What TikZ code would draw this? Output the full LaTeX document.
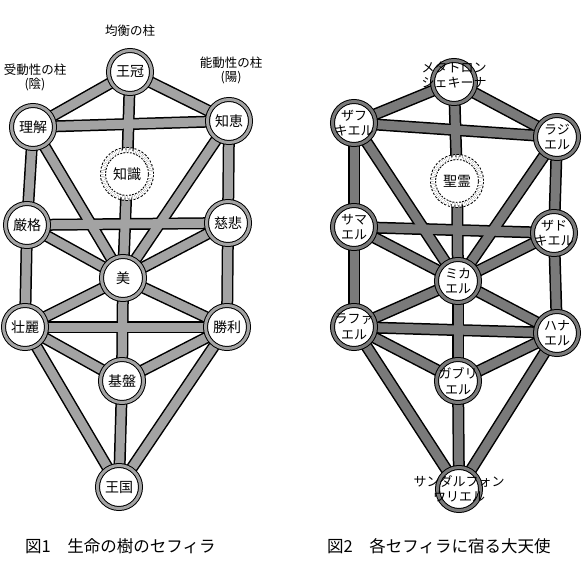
\documentclass[tikz,border=0pt]{standalone}
\usepackage{fontspec}
\setmainfont{Noto Sans CJK JP}
\usetikzlibrary{positioning}
\pgfdeclarelayer{bg}
\pgfsetlayers{bg,main}
\definecolor{graylife}{gray}{0.64}
\definecolor{grayangel}{gray}{0.48}
\tikzset{
    sefira/.style ={
        shape=circle,
        minimum size=43pt,
        inner sep=0pt,
        fill=white,
        draw=black,
        line width=1pt,
        double=#1,
        double distance=3pt,
        font=\fontsize{14}{16}\selectfont
    },
    daath/.style ={
        shape=circle,
        minimum size=48pt,
        inner sep=0pt,
        fill=white,
        draw=black,
        dash pattern=on 2pt off 1.6pt,
        line width=1pt,
        double=white,
        double distance=4pt,
        font=\fontsize{14}{16}\selectfont
    },
    pathout/.style ={line width=12pt, draw=black},
    pathin/.style ={line width=9pt, draw=#1},
    angel/.style ={align=center, inner sep=0pt, font=\fontsize{13}{15.5}\selectfont},
    pillar/.style ={align=center, inner sep=0pt, font=\fontsize{12.5}{14}\selectfont},
    figcap/.style ={anchor=west, inner sep=0pt, font=\fontsize{16.5}{18}\selectfont}
}
% paths of the tree of life
\newcommand\lifepaths{oukan/rikai, oukan/chie, oukan/chishiki, chishiki/bi,
    rikai/chie, rikai/genkaku, rikai/bi, chie/jihi, chie/bi,
    genkaku/jihi, genkaku/bi, jihi/bi, genkaku/sourei, jihi/shouri,
    bi/sourei, bi/shouri, bi/kiban, sourei/shouri, sourei/kiban, shouri/kiban,
    sourei/oukoku, shouri/oukoku, kiban/oukoku}
\newcommand\angelpaths{metatron/zaphkiel, metatron/raziel, metatron/seirei, seirei/michael,
    zaphkiel/raziel, zaphkiel/samael, zaphkiel/michael, raziel/zadkiel, raziel/michael,
    samael/zadkiel, samael/michael, zadkiel/michael, samael/raphael, zadkiel/haniel,
    michael/raphael, michael/haniel, michael/gabriel, raphael/haniel, raphael/gabriel, haniel/gabriel,
    raphael/sandalphon, haniel/sandalphon, gabriel/sandalphon}

\begin{document}
\begin{tikzpicture}[x=1pt,y=-1pt]
    \useasboundingbox (0,0) rectangle (583,583);
    % fig 1
    \node[sefira=graylife] (oukan) at(130,72) {王冠};
    \node[sefira=graylife] (rikai) at(33,127) {理解};
    \node[sefira=graylife] (chie) at(229,121) {知恵};
    \node[daath] (chishiki) at(127,174) {知識};
    \node[sefira=graylife] (genkaku) at(27,225) {厳格};
    \node[sefira=graylife] (jihi) at(228,223) {慈悲};
    \node[sefira=graylife] (bi) at(123,278) {美};
    \node[sefira=graylife] (sourei) at(25,327) {壮麗};
    \node[sefira=graylife] (shouri) at(227,327) {勝利};
    \node[sefira=graylife] (kiban) at(122,381) {基盤};
    \node[sefira=graylife] (oukoku) at(119,487) {王国};
    \node[pillar] (kinkou) at(130,31) {均衡の柱};
    \node[pillar] (judou) at(35,77) {受動性の柱\\(陰)};
    \node[pillar] (noudou) at(231,70) {能動性の柱\\(陽)};
    \node[figcap] (cap1) at(25,546) {図1　生命の樹のセフィラ};
    % fig 2
    \node[sefira=grayangel, label={[angel,yshift=7pt]center:{メタトロン\\シェキーナ}}] (metatron) at(454,82) {};
    \node[sefira=grayangel, label={[angel]center:{ザフ\\キエル}}] (zaphkiel) at(354,123) {};
    \node[sefira=grayangel, label={[angel]center:{ラジ\\エル}}] (raziel) at(557,137) {};
    \node[daath] (seirei) at(457,181) {聖霊};
    \node[sefira=grayangel, label={[angel]center:{サマ\\エル}}] (samael) at(354,227) {};
    \node[sefira=grayangel, label={[angel]center:{ザド\\キエル}}] (zadkiel) at(554,233) {};
    \node[sefira=grayangel, label={[angel]center:{ミカ\\エル}}] (michael) at(458,281) {};
    \node[sefira=grayangel, label={[angel]center:{ラファ\\エル}}] (raphael) at(354,327) {};
    \node[sefira=grayangel, label={[angel]center:{ハナ\\エル}}] (haniel) at(557,333) {};
    \node[sefira=grayangel, label={[angel]center:{ガブリ\\エル}}] (gabriel) at(458,381) {};
    \node[sefira=grayangel, label={[angel]center:{サンダルフォン\\ウリエル}}] (sandalphon) at(459,489) {};
    \node[figcap] (cap2) at(327,546) {図2　各セフィラに宿る大天使};
    \begin{pgfonlayer}{bg}
        \foreach \a/\b in \lifepaths \draw[pathout] (\a.center) -- (\b.center);
        \foreach \a/\b in \lifepaths \draw[pathin=graylife] (\a.center) -- (\b.center);
        \foreach \a/\b in \angelpaths \draw[pathout] (\a.center) -- (\b.center);
        \foreach \a/\b in \angelpaths \draw[pathin=grayangel] (\a.center) -- (\b.center);
    \end{pgfonlayer}
\end{tikzpicture}
\end{document}
